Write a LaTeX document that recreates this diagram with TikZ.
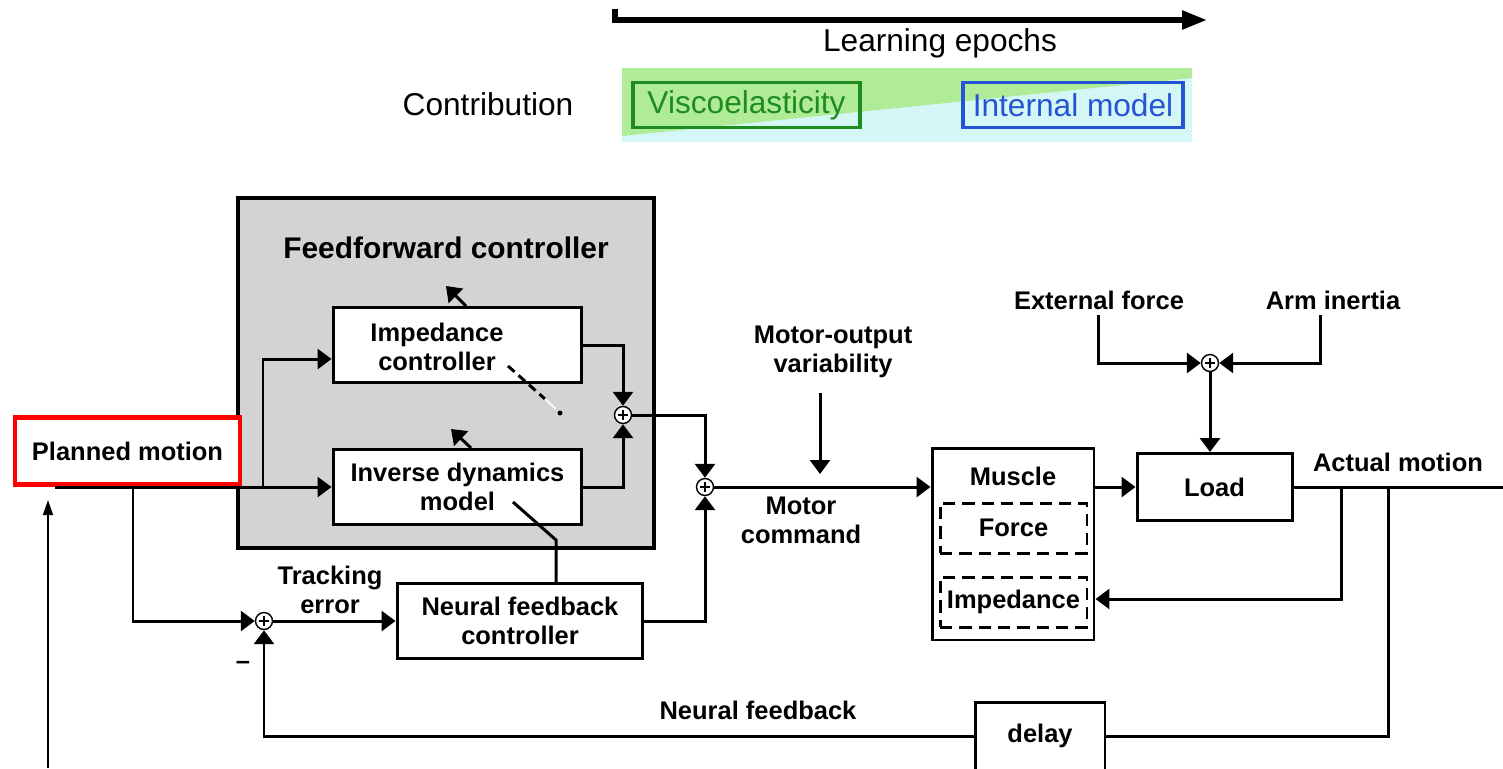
\documentclass[tikz,border=0pt]{standalone}
\usepackage{fontspec}
\setmainfont{Liberation Sans}
\usetikzlibrary{arrows.meta,calc}

\definecolor{ffgray}{HTML}{D3D3D3}
\definecolor{bandgreen}{HTML}{B0EC98}
\definecolor{bandcyan}{HTML}{D4F6F4}
\definecolor{visco}{HTML}{1E8C1E}
\definecolor{intmod}{HTML}{2454D4}
\newcommand\dgfont{\fontsize{14.5}{16.5}\selectfont\bfseries}
\newcommand\topfont{\fontsize{18}{21}\selectfont}

\tikzset{
  wire/.style={line width=1.7pt},
  blk/.style={draw,line width=1.7pt,fill=white,inner sep=0pt,align=center,font=\dgfont},
  dashblk/.style={draw,line width=1.7pt,dash pattern=on 7pt off 4pt,inner sep=0pt,align=center,font=\dgfont},
  sumnode/.style={circle,draw,line width=0.8pt,fill=white,minimum size=0.34cm,inner sep=0pt,
    path picture={\draw[line width=1.5pt] ($(path picture bounding box.center)+(-0.1cm,0)$) -- ++(0.2cm,0)
      ($(path picture bounding box.center)+(0,-0.1cm)$) -- ++(0,0.2cm);}},
  txt/.style={font=\dgfont,align=center,inner sep=0pt},
}

\begin{document}
\begin{tikzpicture}[x=0.02cm,y=-0.02cm,>={Triangle[length=0.28cm,width=0.4cm]},wire]
\useasboundingbox (0,0) rectangle (1503,768);

% learning epochs
\coordinate (ep0) at (615,9);
\coordinate (ep1) at (1207,20);
\draw[line width=3.2pt,-{Triangle[length=0.5cm,width=0.36cm]}] (ep0) |- (ep1);
\node[font=\topfont] (epochs) at (940,43) {Learning epochs};

% contribution band
\fill[bandcyan] (622,68) rectangle (1192,142);
\fill[bandgreen] (622,68) -- (1192,68) -- (1192,78) -- (622,136) -- cycle;
\node[font=\topfont] (contrib) at (488,104) {Contribution};
\node[draw=visco,line width=2pt,text=visco,font=\topfont,minimum width=4.54cm,minimum height=0.9cm] (visco) at (746.5,105) {Viscoelasticity};
\node[draw=intmod,line width=2pt,text=intmod,font=\topfont,minimum width=4.4cm,minimum height=0.9cm] (intmod) at (1073,105) {Internal model};

% feedforward part
\node[draw,fill=ffgray,line width=1.8pt,minimum width=8.32cm,minimum height=7cm] (ff) at (446,373) {};
\node[font=\fontsize{17}{20}\selectfont\bfseries] (fftitle) at (446,248) {Feedforward controller};
\node[blk,minimum width=4.98cm,minimum height=1.5cm] (imp) at (457.5,345) {};
\node[txt] (imptxt) at (437,347) {Impedance\\controller};
\node[blk,minimum width=4.98cm,minimum height=1.5cm] (inv) at (457.5,487) {Inverse dynamics\\model};

\node[sumnode] (sum1) at (623,415) {};
\node[sumnode] (sum2) at (705,487) {};
\node[sumnode] (sum3) at (264,621) {};
\node[sumnode] (sum4) at (1210,363) {};

\node[draw=red,line width=2.4pt,fill=white,minimum width=4.5cm,minimum height=1.34cm,font=\dgfont] (plan) at (127.5,451) {Planned motion};
\node[blk,minimum width=4.92cm,minimum height=1.5cm] (nfc) at (520,621) {Neural feedback\\controller};

% plant
\node[blk,minimum width=3.24cm,minimum height=3.84cm] (muscle) at (1013,544) {};
\node[txt] (muscletxt) at (1013,476) {Muscle};
\node[dashblk,minimum width=2.94cm,minimum height=1cm] (force) at (1013.5,528) {Force};
\node[dashblk,minimum width=2.94cm,minimum height=1cm] (impd) at (1013.5,602) {Impedance};
\node[blk,minimum width=3.1cm,minimum height=1.34cm] (load) at (1214.5,487) {Load};
\node[blk,minimum width=2.6cm,minimum height=1.36cm] (delay) at (1040,736) {delay};

% labels
\node[txt] (mov) at (833,352) {Motor-output\\variability};
\node[txt] (mcmd) at (801,520) {Motor\\command};
\node[txt] (track) at (330,590) {Tracking\\error};
\node[txt] (minus) at (243,665) {--};
\node[txt] (nfb) at (758,710) {Neural feedback};
\node[txt] (ext) at (1099,300) {External force};
\node[txt] (arm) at (1333,300) {Arm inertia};
\node[txt] (actual) at (1398,462) {Actual motion};

\coordinate (pm) at (55,487);
\coordinate (b1) at (263,487);
\coordinate (b2) at (133,487);
\coordinate (b3) at (1341,487);
\coordinate (b4) at (1388,487);
\coordinate (out) at (1503,487);
\coordinate (mvtop) at (820,393);
\coordinate (mvtip) at (820,474);
\coordinate (extc) at (1098,315);
\coordinate (armc) at (1320,315);
\coordinate (dg0) at (513,502);
\coordinate (dg1) at (556,540);
\coordinate (adj0) at (508,366);
\coordinate (adj1) at (545,399);
\coordinate (adj2) at (556,409);
\coordinate (adjdot) at (560,413);
\coordinate (up0) at (466,306);
\coordinate (up1) at (446,286);
\coordinate (up2) at (471,448);
\coordinate (up3) at (451,429);
\coordinate (pl0) at (48,768);
\coordinate (pl1) at (48,500);

% connectors
\draw[->] (pm) -- (inv.west);
\draw[->] (b1) |- ($(imp.west)+(0,14)$);
\draw[->] (b2) |- (sum3.west);
\draw[->] (imp.east) -| (sum1.north);
\draw[->] (inv.east) -| (sum1.south);
\draw[->] (sum1.east) -| (sum2.north);
\draw[->] (nfc.east) -| (sum2.south);
\draw[->] (sum2.east) -- (sum2.east -| muscle.west);
\draw[->] (mvtop) -- (mvtip);
\draw[->] (sum3.east) -- (nfc.west);
\draw (dg0) -- (dg1) -- (dg1 |- nfc.north);
\draw[->] (muscle.east |- load.west) -- (load.west);
\draw[->] (extc) |- (sum4.west);
\draw[->] (armc) |- (sum4.east);
\draw[->] (sum4.south) -- (sum4.south |- load.north);
\draw (load.east) -- (out);
\draw[->] (b3) |- ($(muscle.east)+(0,55)$);
\draw (b4) |- (delay.east);
\draw[->] (delay.west) -| (sum3.south);
\draw[dash pattern=on 5pt off 3pt] (adj0) -- (adj1);
\draw[white,line width=1pt] (adj1) -- (adj2);
\fill (adjdot) circle (0.05cm);
\draw[->] (up0) -- (up1);
\draw[->] (up2) -- (up3);
\draw[line width=0.8pt,-{Triangle[length=0.3cm,width=0.2cm]}] (pl0) -- (pl1);

\end{tikzpicture}
\end{document}
